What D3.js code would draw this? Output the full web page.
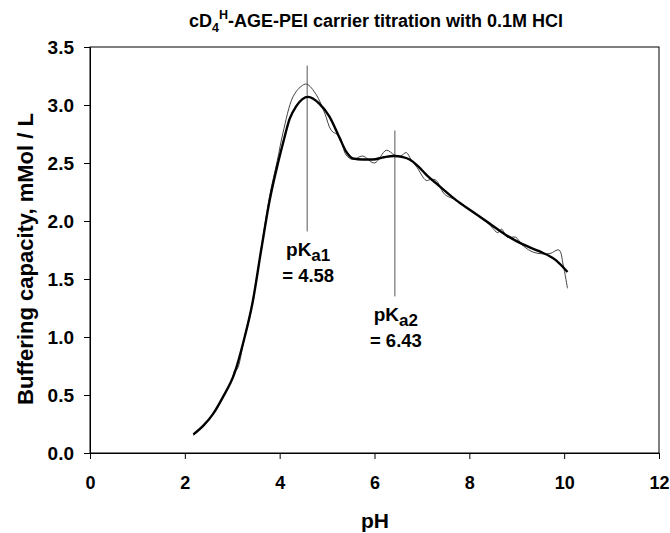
<!DOCTYPE html>
<html>
<head>
<meta charset="utf-8">
<script src="https://cdn.jsdelivr.net/npm/d3@7"></script>
<style>
  body { margin: 0; background: #fff; }
  text { font-family: "Liberation Sans", Arial, sans-serif; font-weight: bold; fill: #000; }
</style>
</head>
<body>
<div id="chart"></div>
<script>
// smoothed fit (thick line)
const fitPH = [2.18, 2.4, 2.6, 2.8, 3.05, 3.25, 3.43, 3.61, 3.79, 3.93, 4.07, 4.21, 4.35, 4.6, 4.84, 5.05, 5.26, 5.4, 5.54, 5.75, 5.96, 6.2, 6.4, 6.6, 6.74, 6.9, 7.09, 7.37, 7.72, 8.07, 8.42, 8.77, 9.12, 9.47, 9.83, 10.07];
const fitCap = [0.16, 0.24, 0.34, 0.48, 0.69, 0.98, 1.30, 1.75, 2.18, 2.44, 2.67, 2.88, 2.99, 3.07, 3.01, 2.90, 2.72, 2.60, 2.54, 2.53, 2.53, 2.55, 2.56, 2.55, 2.53, 2.48, 2.40, 2.30, 2.18, 2.08, 1.98, 1.88, 1.80, 1.74, 1.66, 1.56];

// raw titration data (thin line)
const rawPH = [2.18, 2.4, 2.6, 2.8, 3.0, 3.05, 3.1, 3.25, 3.43, 3.61, 3.79, 3.95, 4.07, 4.28, 4.45, 4.57, 4.77, 4.95, 5.09, 5.26, 5.4, 5.54, 5.75, 6.0, 6.25, 6.42, 6.55, 6.67, 6.77, 6.9, 7.09, 7.2, 7.3, 7.44, 7.51, 7.72, 8.07, 8.42, 8.6, 8.68, 8.8, 8.98, 9.1, 9.3, 9.47, 9.7, 9.89, 9.98, 10.07];
const rawCap = [0.15, 0.24, 0.34, 0.48, 0.64, 0.71, 0.72, 0.98, 1.31, 1.76, 2.22, 2.52, 2.76, 3.07, 3.16, 3.18, 3.09, 2.93, 2.78, 2.73, 2.57, 2.53, 2.56, 2.50, 2.61, 2.57, 2.56, 2.59, 2.53, 2.46, 2.35, 2.36, 2.35, 2.25, 2.22, 2.18, 2.08, 1.97, 1.90, 1.93, 1.86, 1.86, 1.80, 1.74, 1.72, 1.72, 1.75, 1.62, 1.42];

// pKa markers
const pkaPH = [4.58, 6.43];
const pkaTop = [3.34, 2.78];
const pkaBottom = [1.91, 1.35];
const pkaSub = ["a1", "a2"];
const pkaText = ["= 4.58", "= 6.43"];

const xTicks = [0, 2, 4, 6, 8, 10, 12];
const yTicks = [0, 0.5, 1, 1.5, 2, 2.5, 3, 3.5];

const width = 670;
const height = 533;

const svg = d3.select("#chart")
    .append("svg")
    .attr("width", width)
    .attr("height", height);

const x = d3.scaleLinear().domain([0, 12]).range([90, 659]);
const y = d3.scaleLinear().domain([0, 3.5]).range([453, 47]);

// frame
svg.append("rect")
    .attr("x", x(0)).attr("y", y(3.5))
    .attr("width", x(12) - x(0)).attr("height", y(0) - y(3.5))
    .attr("fill", "none").attr("stroke", "#000").attr("stroke-width", 1);

const xAxis = svg.append("g")
    .attr("transform", `translate(0,${y(0)})`)
    .call(d3.axisBottom(x).tickValues(xTicks).tickSize(6).tickPadding(17).tickFormat(d3.format("d")));
const yAxis = svg.append("g")
    .attr("transform", `translate(${x(0)},0)`)
    .call(d3.axisLeft(y).tickValues(yTicks).tickSize(6).tickPadding(10).tickFormat(d3.format(".1f")));

[xAxis, yAxis].forEach(g => {
    g.select(".domain").attr("stroke", "#000");
    g.selectAll(".tick line").attr("stroke", "#000");
    g.selectAll("text").attr("font-size", 18).attr("font-family", null);
});
yAxis.selectAll("text").attr("font-size", 19);

// pKa vertical lines
pkaPH.forEach((p, i) => {
    svg.append("line")
        .attr("x1", x(p)).attr("x2", x(p))
        .attr("y1", y(pkaTop[i])).attr("y2", y(pkaBottom[i]))
        .attr("stroke", "#555").attr("stroke-width", 1);
    const t = svg.append("text")
        .attr("x", x(p) + 1).attr("y", y(pkaBottom[i]) + 25)
        .attr("text-anchor", "middle").attr("font-size", 19);
    t.append("tspan").text("pK");
    t.append("tspan").attr("dy", 5).attr("font-size", 17).text(pkaSub[i]);
    svg.append("text")
        .attr("x", x(p) + 1).attr("y", y(pkaBottom[i]) + 51)
        .attr("text-anchor", "middle").attr("font-size", 18.5)
        .text(pkaText[i]);
});

const rawData = rawPH.map((p, i) => [p, rawCap[i]]);
const fitData = fitPH.map((p, i) => [p, fitCap[i]]);

svg.append("path")
    .datum(rawData)
    .attr("fill", "none")
    .attr("stroke", "#444")
    .attr("stroke-width", 1)
    .attr("d", d3.line().x(d => x(d[0])).y(d => y(d[1])).curve(d3.curveCatmullRom));

svg.append("path")
    .datum(fitData)
    .attr("fill", "none")
    .attr("stroke", "#000")
    .attr("stroke-width", 2.4)
    .attr("d", d3.line().x(d => x(d[0])).y(d => y(d[1])).curve(d3.curveMonotoneX));

// title
const title = svg.append("text")
    .attr("x", 376).attr("y", 27)
    .attr("text-anchor", "middle").attr("font-size", 18);
title.append("tspan").text("cD");
title.append("tspan").attr("dy", 5).attr("font-size", 12.5).text("4");
title.append("tspan").attr("dy", -13).attr("font-size", 12.5).text("H");
title.append("tspan").attr("dy", 8).text("-AGE-PEI carrier titration with 0.1M HCl");

svg.append("text")
    .attr("transform", "translate(33,259) rotate(-90)")
    .attr("text-anchor", "middle").attr("font-size", 22)
    .text("Buffering capacity, mMol / L");

svg.append("text")
    .attr("x", 375).attr("y", 528)
    .attr("text-anchor", "middle").attr("font-size", 21)
    .text("pH");
</script>
</body>
</html>
